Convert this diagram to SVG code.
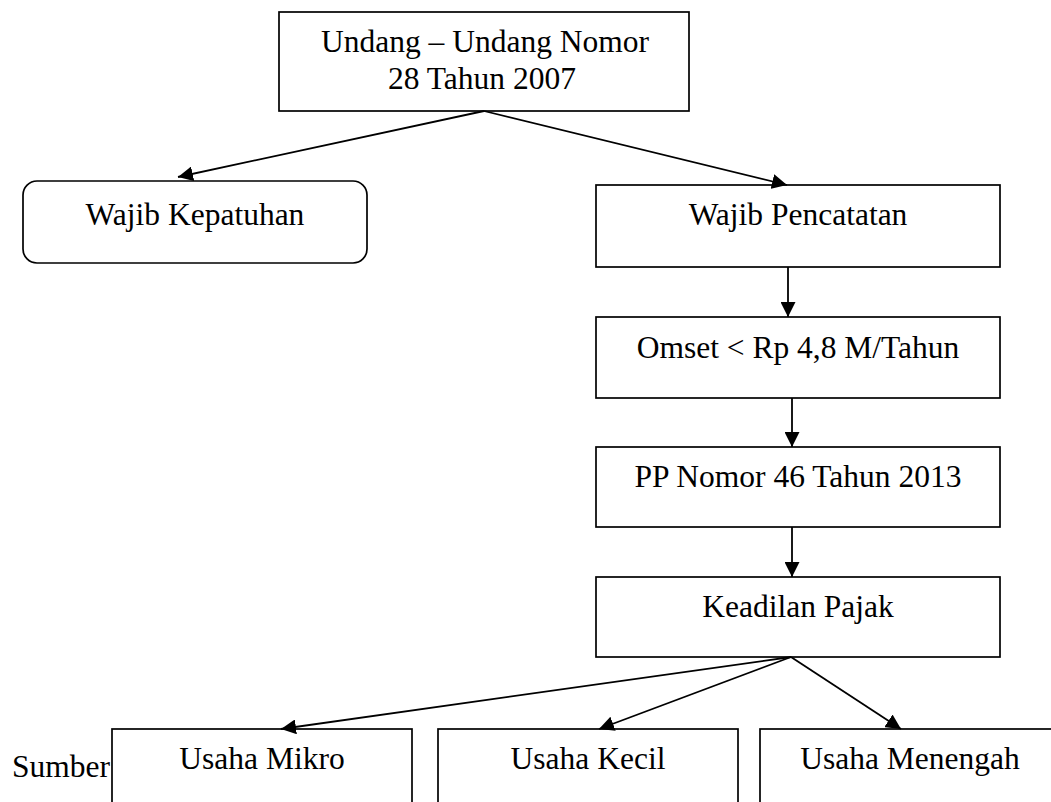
<svg xmlns="http://www.w3.org/2000/svg" width="1051" height="802" viewBox="0 0 1051 802">
<style>
.box{fill:#fff;stroke:#000;stroke-width:1.7}
.t{font-family:"Liberation Serif","Times New Roman",serif;font-size:31.5px;fill:#000;text-anchor:middle}
.c{stroke:#000;stroke-width:1.8;fill:none;marker-end:url(#ah)}
</style>
<defs>
<marker id="ah" viewBox="0 0 10 10" refX="10" refY="5" markerWidth="15" markerHeight="15" markerUnits="userSpaceOnUse" orient="auto">
<path d="M0,0 L10,5 L0,10 z" fill="#000"/>
</marker>
</defs>
<rect width="1051" height="802" fill="#fff"/>
<g id="n-uu">
<rect class="box" x="279" y="12" width="410" height="99"/>
<text class="t" x="485" y="52">Undang – Undang Nomor</text>
<text class="t" x="482" y="89">28 Tahun 2007</text>
</g>
<g id="n-kepatuhan">
<rect class="box" x="23" y="181" width="344" height="82" rx="14" ry="14"/>
<text class="t" x="195" y="225">Wajib Kepatuhan</text>
</g>
<g id="n-pencatatan">
<rect class="box" x="596" y="185" width="404" height="82"/>
<text class="t" x="798" y="225">Wajib Pencatatan</text>
</g>
<g id="n-omset">
<rect class="box" x="596" y="317" width="404" height="81"/>
<text class="t" x="798" y="358">Omset &lt; Rp 4,8 M/Tahun</text>
</g>
<g id="n-pp">
<rect class="box" x="596" y="447" width="404" height="80"/>
<text class="t" x="798" y="487">PP Nomor 46 Tahun 2013</text>
</g>
<g id="n-keadilan">
<rect class="box" x="596" y="577" width="404" height="80"/>
<text class="t" x="798" y="617">Keadilan Pajak</text>
</g>
<g id="n-mikro">
<rect class="box" x="112" y="729" width="300" height="100"/>
<text class="t" x="262" y="769">Usaha Mikro</text>
</g>
<g id="n-kecil">
<rect class="box" x="438" y="729" width="300" height="100"/>
<text class="t" x="588" y="769">Usaha Kecil</text>
</g>
<g id="n-menengah">
<rect class="box" x="760" y="729" width="300" height="100"/>
<text class="t" x="910" y="769">Usaha Menengah</text>
</g>
<g id="n-sumber">
<text class="t" x="12" y="777" style="text-anchor:start">Sumber</text>
</g>
<g id="connectors">
<line class="c" x1="484" y1="111" x2="178" y2="177"/>
<line class="c" x1="484" y1="111" x2="787" y2="185"/>
<line class="c" x1="788" y1="267" x2="788" y2="317"/>
<line class="c" x1="792" y1="398" x2="792" y2="447"/>
<line class="c" x1="792" y1="527" x2="792" y2="577"/>
<line class="c" x1="791" y1="657" x2="281" y2="729"/>
<line class="c" x1="791" y1="657" x2="599" y2="729"/>
<line class="c" x1="791" y1="657" x2="901" y2="729"/>
</g>
</svg>
